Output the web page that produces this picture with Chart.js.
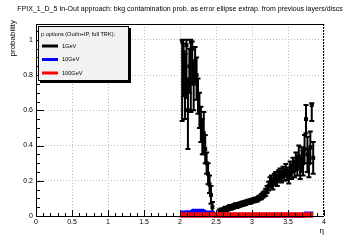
<!DOCTYPE html>
<html>
<head>
<meta charset="utf-8">
<script src="https://cdn.jsdelivr.net/npm/chart.js"></script>
<style>
  html, body { margin: 0; padding: 0; background: #fff; }
  #wrap { width: 360px; height: 240px; }
</style>
</head>
<body>
<div id="wrap"><canvas id="c" width="360" height="240"></canvas></div>
<script>
const titleText = 'FPIX_1_D_5 In-Out approach: bkg contamination prob. as error ellipse extrap. from previous layers/discs';
const xTitle = 'η';
const yTitle = 'probability';
const legendHeader = 'p options (OutIn+IP, full TRK):';
const seriesNames = ['1GeV', '10GeV', '100GeV'];

const xTicks = [0, 0.5, 1, 1.5, 2, 2.5, 3, 3.5, 4];
const yTicks = [0, 0.2, 0.4, 0.6, 0.8, 1];

// 1GeV
const eta1 = [2.03, 2.05, 2.07, 2.09, 2.11, 2.13, 2.15, 2.17, 2.19, 2.21, 2.23, 2.25, 2.27, 2.29, 2.31, 2.33, 2.35, 2.37, 2.39, 2.41, 2.43, 2.45,
  2.55, 2.57, 2.59, 2.61, 2.63, 2.65, 2.67, 2.69, 2.71, 2.73, 2.75, 2.77, 2.79, 2.81, 2.83, 2.85, 2.87, 2.89, 2.91, 2.93, 2.95, 2.97, 2.99,
  3.01, 3.03, 3.05, 3.07, 3.09, 3.11, 3.13, 3.15, 3.17, 3.19, 3.21, 3.23, 3.25, 3.27, 3.29, 3.31, 3.33, 3.35, 3.37, 3.39,
  3.41, 3.43, 3.45, 3.47, 3.49, 3.51, 3.53, 3.55, 3.57, 3.59, 3.61, 3.63, 3.65, 3.67, 3.69, 3.71, 3.73, 3.75, 3.77, 3.79, 3.81, 3.83, 3.85];
const val1 = [0.99, 0.93, 0.80, 0.97, 0.60, 0.85, 0.99, 0.95, 0.75, 0.88, 0.80, 0.68, 0.60, 0.52, 0.45, 0.47, 0.38, 0.30, 0.24, 0.18, 0.12, 0.05,
  0.025, 0.03, 0.028, 0.035, 0.04, 0.038, 0.045, 0.05, 0.048, 0.052, 0.055, 0.06, 0.058, 0.062, 0.065, 0.068, 0.07, 0.072, 0.075, 0.078, 0.08, 0.082, 0.085,
  0.088, 0.09, 0.092, 0.095, 0.10, 0.105, 0.11, 0.118, 0.125, 0.135, 0.15, 0.17, 0.19, 0.20, 0.18, 0.21, 0.22, 0.20, 0.23, 0.24,
  0.22, 0.25, 0.23, 0.26, 0.24, 0.22, 0.27, 0.25, 0.29, 0.26, 0.31, 0.28, 0.34, 0.27, 0.32, 0.30, 0.38, 0.55, 0.35, 0.30, 0.39, 0.63, 0.33];
const errLo1 = [0.45, 0.25, 0.25, 0.30, 0.22, 0.15, 0.40, 0.20, 0.15, 0.12, 0.14, 0.10, 0.10, 0.10, 0.10, 0.12, 0.08, 0.06, 0.06, 0.05, 0.05, 0.03,
  0.012, 0.012, 0.012, 0.012, 0.012, 0.012, 0.012, 0.012, 0.012, 0.012, 0.012, 0.012, 0.012, 0.012, 0.012, 0.012, 0.012, 0.012, 0.012, 0.012, 0.012, 0.012, 0.012,
  0.012, 0.012, 0.012, 0.012, 0.012, 0.012, 0.015, 0.015, 0.015, 0.02, 0.02, 0.025, 0.03, 0.03, 0.03, 0.03, 0.03, 0.03, 0.03, 0.03,
  0.03, 0.03, 0.03, 0.035, 0.035, 0.035, 0.04, 0.04, 0.04, 0.04, 0.05, 0.05, 0.06, 0.06, 0.07, 0.07, 0.08, 0.08, 0.10, 0.08, 0.09, 0.09, 0.09];
const errHi1 = [0.01, 0.05, 0.12, 0.03, 0.18, 0.10, 0.01, 0.04, 0.12, 0.08, 0.10, 0.10, 0.10, 0.10, 0.10, 0.12, 0.08, 0.06, 0.06, 0.05, 0.05, 0.03,
  0.012, 0.012, 0.012, 0.012, 0.012, 0.012, 0.012, 0.012, 0.012, 0.012, 0.012, 0.012, 0.012, 0.012, 0.012, 0.012, 0.012, 0.012, 0.012, 0.012, 0.012, 0.012, 0.012,
  0.012, 0.012, 0.012, 0.012, 0.012, 0.012, 0.015, 0.015, 0.015, 0.02, 0.02, 0.025, 0.03, 0.03, 0.03, 0.03, 0.03, 0.03, 0.03, 0.03,
  0.03, 0.03, 0.03, 0.035, 0.035, 0.035, 0.04, 0.04, 0.04, 0.04, 0.05, 0.05, 0.06, 0.06, 0.07, 0.07, 0.08, 0.08, 0.10, 0.08, 0.09, 0.01, 0.09];

// 10GeV
const eta10 = [2.0, 2.05, 2.1, 2.15, 2.18, 2.32, 2.36, 2.45, 2.48, 2.55, 3.0, 3.5, 3.72, 3.74, 3.85];
const val10 = [0.017, 0.017, 0.018, 0.018, 0.027, 0.027, 0.018, 0.017, 0.006, 0.004, 0.004, 0.004, 0.004, 0.012, 0.012];

// 100GeV
const eta100 = [2.0, 2.5, 3.0, 3.5, 3.85];
const val100 = [0.005, 0.005, 0.005, 0.005, 0.005];

const toXY = (xs, ys) => xs.map((x, i) => ({ x: x, y: ys[i] }));
const fmt = v => String(+(+v).toFixed(2));

const rootPlugin = {
  id: 'rootStyle',
  beforeDatasetsDraw(chart) {
    // error bars of the 1GeV series
    const ctx = chart.ctx, xs = chart.scales.x, ys = chart.scales.y;
    ctx.save();
    ctx.strokeStyle = '#000';
    ctx.lineWidth = 2;
    eta1.forEach((e, i) => {
      const px = xs.getPixelForValue(e);
      const top = ys.getPixelForValue(val1[i] + errHi1[i]);
      const bot = ys.getPixelForValue(Math.max(0, val1[i] - errLo1[i]));
      ctx.beginPath();
      ctx.moveTo(px, top); ctx.lineTo(px, bot);
      ctx.moveTo(px - 2.5, top); ctx.lineTo(px + 2.5, top);
      ctx.moveTo(px - 2.5, bot); ctx.lineTo(px + 2.5, bot);
      ctx.stroke();
    });
    ctx.restore();
  },
  afterDraw(chart) {
    const ctx = chart.ctx, a = chart.chartArea, xs = chart.scales.x, ys = chart.scales.y;
    ctx.save();
    // frame
    ctx.strokeStyle = '#000';
    ctx.lineWidth = 1;
    ctx.beginPath();
    ctx.moveTo(a.left + 0.5, a.top + 0.5); ctx.lineTo(a.right, a.top + 0.5);
    ctx.moveTo(a.left + 0.5, a.top); ctx.lineTo(a.left + 0.5, a.bottom + 0.5);
    ctx.lineTo(a.right, a.bottom + 0.5);
    ctx.stroke();
    ctx.setLineDash([2, 1]);
    ctx.beginPath();
    ctx.moveTo(a.right - 0.5, a.top); ctx.lineTo(a.right - 0.5, a.bottom);
    ctx.stroke();
    ctx.setLineDash([]);
    // ticks, inward
    ctx.beginPath();
    for (let k = 0; k <= 40; k++) {
      const px = Math.round(xs.getPixelForValue(k / 10)) + 0.5;
      const len = k % 5 === 0 ? 6 : 3;
      ctx.moveTo(px, a.bottom); ctx.lineTo(px, a.bottom - len);
    }
    for (let k = 0; k <= 21; k++) {
      const py = Math.round(ys.getPixelForValue(k * 0.05)) + 0.5;
      const len = k % 4 === 0 ? 8 : 4;
      ctx.moveTo(a.left, py); ctx.lineTo(a.left + len, py);
    }
    ctx.stroke();
    // title
    ctx.fillStyle = '#000';
    ctx.font = '7px "Liberation Sans", Arial, sans-serif';
    ctx.textAlign = 'center';
    ctx.textBaseline = 'middle';
    ctx.fillText(titleText, 180, 9.5);
    // axis titles
    ctx.font = '8px "Liberation Sans", Arial, sans-serif';
    ctx.textAlign = 'right';
    ctx.fillText(xTitle, a.right, 231);
    ctx.save();
    ctx.translate(13, a.top - 4);
    ctx.rotate(-Math.PI / 2);
    ctx.textAlign = 'right';
    ctx.fillText(yTitle, 0, 0);
    ctx.restore();
    // legend
    const L = 38, T = 26, W = 91, H = 55;
    ctx.fillStyle = '#000';
    ctx.fillRect(L + 2, T + 2, W, H);
    ctx.fillStyle = '#f2f2f2';
    ctx.fillRect(L, T, W, H);
    ctx.strokeRect(L + 0.5, T + 0.5, W - 1, H - 1);
    ctx.fillStyle = '#000';
    ctx.font = '5.6px "Liberation Sans", Arial, sans-serif';
    ctx.textAlign = 'left';
    ctx.fillText(legendHeader, L + 3, 34);
    const cols = ['#000000', '#0000ff', '#ff0000'];
    const rows = [46, 59.5, 73];
    ctx.lineWidth = 3;
    seriesNames.forEach((n, i) => {
      ctx.strokeStyle = cols[i];
      ctx.beginPath();
      ctx.moveTo(L + 4, rows[i]); ctx.lineTo(L + 20, rows[i]);
      ctx.stroke();
      ctx.fillText(n, L + 24, rows[i]);
    });
    ctx.restore();
  }
};

new Chart(document.getElementById('c'), {
  type: 'scatter',
  data: {
    datasets: [
      { label: seriesNames[0], data: toXY(eta1, val1), showLine: false, pointStyle: 'rect',
        pointRadius: 2.8, backgroundColor: '#000', borderWidth: 0, order: 3 },
      { label: seriesNames[1], data: toXY(eta10, val10), showLine: true, pointRadius: 0,
        borderColor: '#0000ff', borderWidth: 5, order: 2, clip: false },
      { label: seriesNames[2], data: toXY(eta100, val100), showLine: true, pointRadius: 0,
        borderColor: '#ff0000', borderWidth: 5.5, order: 1, clip: false }
    ]
  },
  options: {
    responsive: false,
    animation: false,
    layout: { padding: { left: 0, right: 36, top: 24, bottom: 0 } },
    plugins: { legend: { display: false }, title: { display: false }, tooltip: { enabled: false } },
    scales: {
      x: {
        type: 'linear', min: 0, max: 4,
        afterFit: s => { s.height = 24; },
        afterBuildTicks: s => { s.ticks = xTicks.map(v => ({ value: v })); },
        ticks: { color: '#000', font: { size: 7, family: '"Liberation Sans", Arial, sans-serif' }, padding: 2,
                 maxRotation: 0, autoSkip: false, callback: v => fmt(v) },
        grid: { color: '#bbbbbb', lineWidth: 1, drawTicks: false },
        border: { display: false, dash: [1, 2] }
      },
      y: {
        type: 'linear', min: 0, max: 1.09,
        afterFit: s => { s.width = 36; },
        afterBuildTicks: s => { s.ticks = yTicks.map(v => ({ value: v })); },
        ticks: { color: '#000', font: { size: 7, family: '"Liberation Sans", Arial, sans-serif' }, padding: 3,
                 autoSkip: false, callback: v => fmt(v) },
        grid: { color: '#bbbbbb', lineWidth: 1, drawTicks: false },
        border: { display: false, dash: [1, 2] }
      }
    }
  },
  plugins: [rootPlugin]
});
</script>
</body>
</html>
